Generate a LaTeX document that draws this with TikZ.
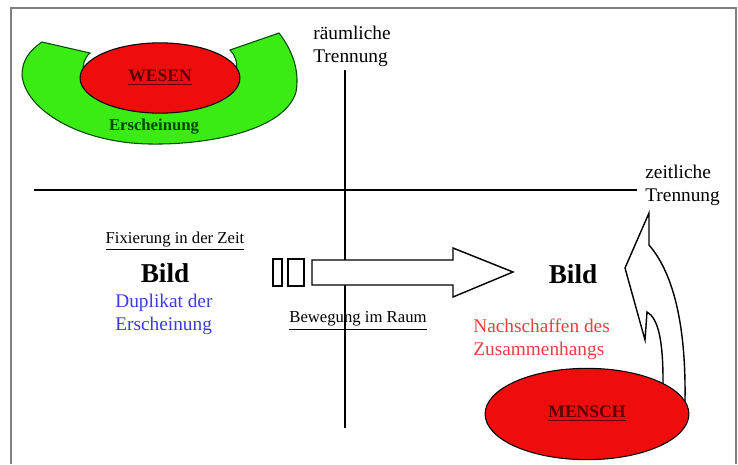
\documentclass[tikz,border=0pt]{standalone}
\usepackage{fontspec}
\setmainfont{Liberation Serif}
\usetikzlibrary{shapes.geometric}

\definecolor{kernred}{RGB}{238,12,12}
\definecolor{hullgreen}{RGB}{58,236,20}
\definecolor{inkblue}{RGB}{60,60,220}
\definecolor{inkred}{RGB}{232,64,64}
\definecolor{darkgreen}{RGB}{0,70,0}
\definecolor{wesenink}{RGB}{90,0,0}
\definecolor{framegray}{RGB}{128,128,128}

\begin{document}
\begin{tikzpicture}[x=0.02cm, y=-0.02cm,
    plain text/.style={inner sep=0pt, align=left, font=\fontsize{11}{13}\selectfont},
    small text/.style={inner sep=0pt, font=\fontsize{9.5}{11}\selectfont},
    bild/.style={inner sep=0pt, font=\fontsize{15.5}{18}\selectfont\bfseries},
    kern/.style={ellipse, draw, line width=0.6pt, fill=kernred, inner sep=0pt, font=\fontsize{10}{12}\selectfont\bfseries},
    axis line/.style={line width=1.4pt},
    hollow arrow/.style={draw, fill=white, line width=0.8pt, line join=miter}]

  \useasboundingbox (0,0) rectangle (738,464);
  \draw[framegray, line width=1.2pt] (11,464) |- (736,8) -- (736,464);

  % the two axes
  \coordinate (vtop) at (345,70);
  \coordinate (vbot) at (345,428);
  \coordinate (hleft) at (34,190);
  \coordinate (hright) at (637,190);
  \draw[axis line] (vtop) -- (vbot);
  \draw[axis line] (hleft) -- (hright);

  \node[plain text, anchor=west] (raum) at (313,46) {räumliche\\Trennung};
  \node[plain text, anchor=west] (zeit) at (645,185) {zeitliche\\Trennung};

  % Wesen and Erscheinung
  \draw[fill=hullgreen, draw=darkgreen, line width=0.6pt]
    (42,42) -- (90,53) .. controls (84,58) and (82,66) .. (84,72)
    .. controls (100,115) and (220,115) .. (236,72)
    .. controls (238,62) and (235,55) .. (230,50) -- (279,33)
    .. controls (292,50) and (300,70) .. (296,92)
    .. controls (285,130) and (210,145) .. (150,144)
    .. controls (80,143) and (25,110) .. (22,75)
    .. controls (22,60) and (30,50) .. cycle;
  \node[kern, minimum width=91pt, minimum height=40pt, text=wesenink] (wesen) at (160,78) {\underline{WESEN}};
  \node[inner sep=0pt, text=darkgreen, font=\fontsize{9.5}{11}\selectfont\bfseries] (ersch) at (154,127) {Erscheinung};

  % left side
  \node[small text] (fix) at (175,241) {\underline{Fixierung in der Zeit}};
  \node[bild] (bild1) at (165,273) {Bild};
  \node[plain text, anchor=west, text=inkblue] (dup) at (115,314) {Duplikat der\\Erscheinung};

  % movement arrow
  \draw[hollow arrow] (273,259) rectangle (282,286);
  \draw[hollow arrow] (288,259) rectangle (304,286);
  \draw[hollow arrow] (312,260) -- (453,260) -- (453,248) -- (513,272)
    -- (453,297) -- (453,285) -- (312,285) -- cycle;
  \node[small text] (beweg) at (358,321) {\underline{Bewegung im Raum}};

  % right side
  \node[bild] (bild2) at (573,274) {Bild};
  \node[plain text, anchor=west, text=inkred] (nach) at (473,339) {Nachschaffen des\\Zusammenhangs};

  % curved arrow up from Mensch
  \draw[hollow arrow] (649,213) -- (625,268) -- (645,340) -- (647,312)
    .. controls (658,318) and (663,340) .. (663,380) -- (663,420) -- (685,420)
    -- (685,400) .. controls (686,330) and (675,275) .. (649,245) -- cycle;
  \node[kern, minimum width=116pt, minimum height=52pt, text=wesenink] (mensch) at (587,414) {\underline{MENSCH}};

\end{tikzpicture}
\end{document}
